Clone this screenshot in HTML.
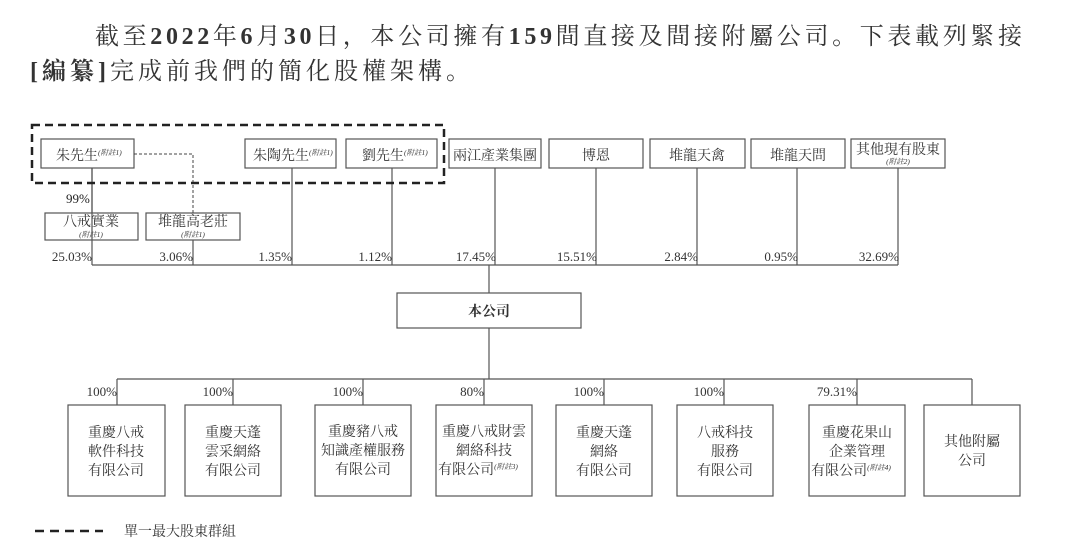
<!DOCTYPE html>
<html><head><meta charset="utf-8"><style>
html,body{margin:0;padding:0;background:#fff;}
svg{display:block;}
text{font-family:"Liberation Serif","Noto Serif CJK SC","Noto Serif CJK TC",serif;fill:#333;}
.t{font-size:14px;}
.n{font-size:7.5px;font-style:italic;}
.p{font-size:13px;fill:#222;}
</style></head><body>
<svg width="1080" height="555" viewBox="0 0 1080 555" xmlns="http://www.w3.org/2000/svg">
<text x="95" y="44" font-size="24" textLength="927" lengthAdjust="spacing" fill="#222">截至<tspan font-weight="bold">2022</tspan>年<tspan font-weight="bold">6</tspan>月<tspan font-weight="bold">30</tspan>日，本公司擁有<tspan font-weight="bold">159</tspan>間直接及間接附屬公司。下表載列緊接</text>
<text x="30" y="79" font-size="24" textLength="440" lengthAdjust="spacing" fill="#222"><tspan font-weight="bold">[編纂]</tspan>完成前我們的簡化股權架構。</text>

<g fill="none" stroke="#555" stroke-width="1.2">
<rect x="41" y="139" width="93" height="29"/>
<rect x="245" y="139" width="91" height="29"/>
<rect x="346" y="139" width="91" height="29"/>
<rect x="449" y="139" width="92" height="29"/>
<rect x="549" y="139" width="94" height="29"/>
<rect x="650" y="139" width="95" height="29"/>
<rect x="751" y="139" width="94" height="29"/>
<rect x="851" y="139" width="94" height="29"/>
<rect x="45" y="213" width="93" height="27"/>
<rect x="146" y="213" width="94" height="27"/>
<path d="M92 168V265M193 240V265M292 168V265M392 168V265M495 168V265M596 168V265M697 168V265M797 168V265M898 168V265M92 265H898"/>
<path d="M92 168V213"/>
<path d="M489 265V293M489 328V379M117 379H972M117 379V405M233 379V405M363 379V405M484 379V405M604 379V405M724 379V405M857 379V405M972 379V405"/>
<rect x="397" y="293" width="184" height="35"/>
<rect x="68" y="405" width="97" height="91"/>
<rect x="185" y="405" width="96" height="91"/>
<rect x="315" y="405" width="96" height="91"/>
<rect x="436" y="405" width="96" height="91"/>
<rect x="556" y="405" width="96" height="91"/>
<rect x="677" y="405" width="96" height="91"/>
<rect x="809" y="405" width="96" height="91"/>
<rect x="924" y="405" width="96" height="91"/>
</g>
<path d="M134 154H193V213" fill="none" stroke="#444" stroke-width="1" stroke-dasharray="3,2"/>
<rect x="32" y="125" width="412" height="58" fill="none" stroke="#222" stroke-width="2.5" stroke-dasharray="8,5"/>
<path d="M35 531H103" stroke="#222" stroke-width="2.5" stroke-dasharray="9,6"/>
<text x="124" y="536" class="t" font-size="15">單一最大股東群組</text>

<text class="t" x="56" y="160">朱先生<tspan class="n" dy="-5">(附註1)</tspan></text>
<text class="t" x="253" y="160">朱陶先生<tspan class="n" dy="-5">(附註1)</tspan></text>
<text class="t" x="362" y="160">劉先生<tspan class="n" dy="-5">(附註1)</tspan></text>
<text class="t" x="495" y="160" text-anchor="middle">兩江產業集團</text>
<text class="t" x="596" y="160" text-anchor="middle">博恩</text>
<text class="t" x="697" y="160" text-anchor="middle">堆龍天禽</text>
<text class="t" x="798" y="160" text-anchor="middle">堆龍天問</text>
<text class="t" x="898" y="154" text-anchor="middle">其他現有股東</text>
<text class="n" x="898" y="164" text-anchor="middle">(附註2)</text>
<text class="t" x="91" y="226" text-anchor="middle">八戒實業</text>
<text class="n" x="91" y="237" text-anchor="middle">(附註1)</text>
<text class="t" x="193" y="226" text-anchor="middle">堆龍高老莊</text>
<text class="n" x="193" y="237" text-anchor="middle">(附註1)</text>
<text class="p" x="66" y="203" font-size="10">99%</text>
<g class="p" text-anchor="end">
<text x="92" y="261">25.03%</text><text x="193" y="261">3.06%</text><text x="292" y="261">1.35%</text><text x="392" y="261">1.12%</text><text x="496" y="261">17.45%</text><text x="597" y="261">15.51%</text><text x="698" y="261">2.84%</text><text x="798" y="261">0.95%</text><text x="899" y="261">32.69%</text>
<text x="117" y="396">100%</text><text x="233" y="396">100%</text><text x="363" y="396">100%</text><text x="484" y="396">80%</text><text x="604" y="396">100%</text><text x="724" y="396">100%</text><text x="857" y="396">79.31%</text>
</g>
<text class="t" x="489" y="316" text-anchor="middle" font-weight="bold" font-size="13">本公司</text>
<g class="t" text-anchor="middle" font-size="13.5">
<text x="116" y="437">重慶八戒</text><text x="116" y="456">軟件科技</text><text x="116" y="475">有限公司</text>
<text x="233" y="437">重慶天蓬</text><text x="233" y="456">雲采網絡</text><text x="233" y="475">有限公司</text>
<text x="363" y="436">重慶豬八戒</text><text x="363" y="455">知識產權服務</text><text x="363" y="474">有限公司</text>
<text x="484" y="436">重慶八戒財雲</text><text x="484" y="455">網絡科技</text><text x="478" y="474">有限公司<tspan class="n" dy="-5">(附註3)</tspan></text>
<text x="604" y="437">重慶天蓬</text><text x="604" y="456">網絡</text><text x="604" y="475">有限公司</text>
<text x="725" y="437">八戒科技</text><text x="725" y="456">服務</text><text x="725" y="475">有限公司</text>
<text x="857" y="437">重慶花果山</text><text x="857" y="456">企業管理</text><text x="851" y="475">有限公司<tspan class="n" dy="-5">(附註4)</tspan></text>
<text x="972" y="446">其他附屬</text><text x="972" y="465">公司</text>
</g>
</svg>
</body></html>
